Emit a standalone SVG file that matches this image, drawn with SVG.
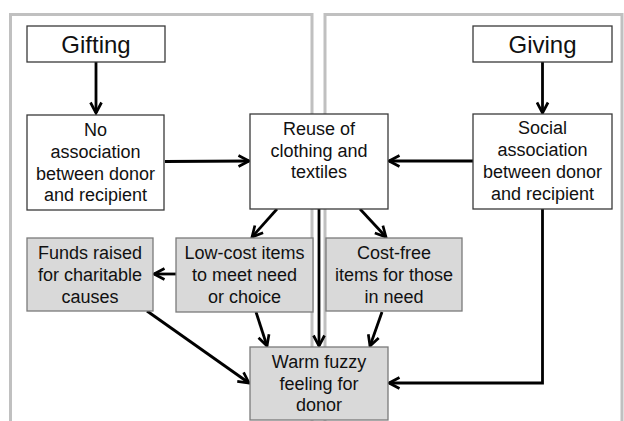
<svg xmlns="http://www.w3.org/2000/svg" width="624" height="421" viewBox="0 0 624 421">
<style>
.panel{fill:none;stroke:#c0c0c0;stroke-width:3}
.wbox{fill:#ffffff;stroke:#3a3a3a;stroke-width:1.3}
.gbox{fill:#d9d9d9;stroke:#7a7a7a;stroke-width:1.3}
.t{font-family:"Liberation Sans",Arial,sans-serif;font-size:18px;fill:#111;text-anchor:middle}
.h{font-size:24px}
.c{fill:none;stroke:#000;stroke-width:2.8}
</style>
<defs>
<marker id="ah" viewBox="0 0 14 14" refX="12" refY="7" markerWidth="14" markerHeight="14" markerUnits="userSpaceOnUse" orient="auto">
<path d="M1.5,1.5 L12,7 L1.5,12.5" fill="none" stroke="#000" stroke-width="2.7"/>
</marker>
</defs>
<rect width="624" height="421" fill="#ffffff"/>
<g id="panels">
<path class="panel" d="M10.5,430 V14.5 H312 V430"/>
<path class="panel" d="M325,430 V14.5 H622 V430"/>
</g>
<g id="connectors">
<line class="c" x1="96" y1="62" x2="96" y2="113" marker-end="url(#ah)"/>
<line class="c" x1="542.5" y1="62" x2="542.5" y2="113" marker-end="url(#ah)"/>
<line class="c" x1="165" y1="161.5" x2="249" y2="161" marker-end="url(#ah)"/>
<line class="c" x1="473" y1="161" x2="389" y2="161" marker-end="url(#ah)"/>
<line class="c" x1="277" y1="209" x2="252" y2="237" marker-end="url(#ah)"/>
<line class="c" x1="360" y1="209" x2="386" y2="237" marker-end="url(#ah)"/>
<line class="c" x1="319" y1="209" x2="319" y2="346" marker-end="url(#ah)"/>
<line class="c" x1="176" y1="274" x2="154" y2="274" marker-end="url(#ah)"/>
<line class="c" x1="256" y1="312" x2="267" y2="346" marker-end="url(#ah)"/>
<line class="c" x1="382" y1="312" x2="370" y2="346" marker-end="url(#ah)"/>
<line class="c" x1="147" y1="311" x2="249" y2="383" marker-end="url(#ah)"/>
<path class="c" d="M542.5,209 V383 H389" marker-end="url(#ah)"/>
</g>
<g id="gifting">
<rect class="wbox" x="27" y="26" width="138" height="36"/>
<text class="t h" x="96" y="53">Gifting</text>
</g>
<g id="giving">
<rect class="wbox" x="473" y="26" width="139" height="36"/>
<text class="t h" x="542.5" y="53">Giving</text>
</g>
<g id="no-association">
<rect class="wbox" x="27" y="115" width="137" height="95"/>
<text class="t" x="95.5" y="136">No</text>
<text class="t" x="95.5" y="158">association</text>
<text class="t" x="95.5" y="180">between donor</text>
<text class="t" x="95.5" y="201">and recipient</text>
</g>
<g id="reuse">
<rect class="wbox" x="250" y="114" width="138" height="95"/>
<text class="t" x="319" y="135">Reuse of</text>
<text class="t" x="319" y="157">clothing and</text>
<text class="t" x="319" y="178">textiles</text>
</g>
<g id="social-association">
<rect class="wbox" x="473" y="114" width="139" height="95"/>
<text class="t" x="542.5" y="134">Social</text>
<text class="t" x="542.5" y="156">association</text>
<text class="t" x="542.5" y="178">between donor</text>
<text class="t" x="542.5" y="200">and recipient</text>
</g>
<g id="funds">
<rect class="gbox" x="27" y="238" width="126" height="73"/>
<text class="t" x="90" y="259">Funds raised</text>
<text class="t" x="90" y="281">for charitable</text>
<text class="t" x="90" y="303">causes</text>
</g>
<g id="low-cost">
<rect class="gbox" x="176" y="238" width="137" height="74"/>
<text class="t" x="244.5" y="259">Low-cost items</text>
<text class="t" x="244.5" y="281">to meet need</text>
<text class="t" x="244.5" y="303">or choice</text>
</g>
<g id="cost-free">
<rect class="gbox" x="326" y="238" width="136" height="73"/>
<text class="t" x="394" y="259">Cost-free</text>
<text class="t" x="394" y="281">items for those</text>
<text class="t" x="394" y="303">in need</text>
</g>
<g id="warm-fuzzy">
<rect class="gbox" x="250" y="347" width="138" height="73"/>
<text class="t" x="319" y="368">Warm fuzzy</text>
<text class="t" x="319" y="390">feeling for</text>
<text class="t" x="319" y="411">donor</text>
</g>
</svg>
